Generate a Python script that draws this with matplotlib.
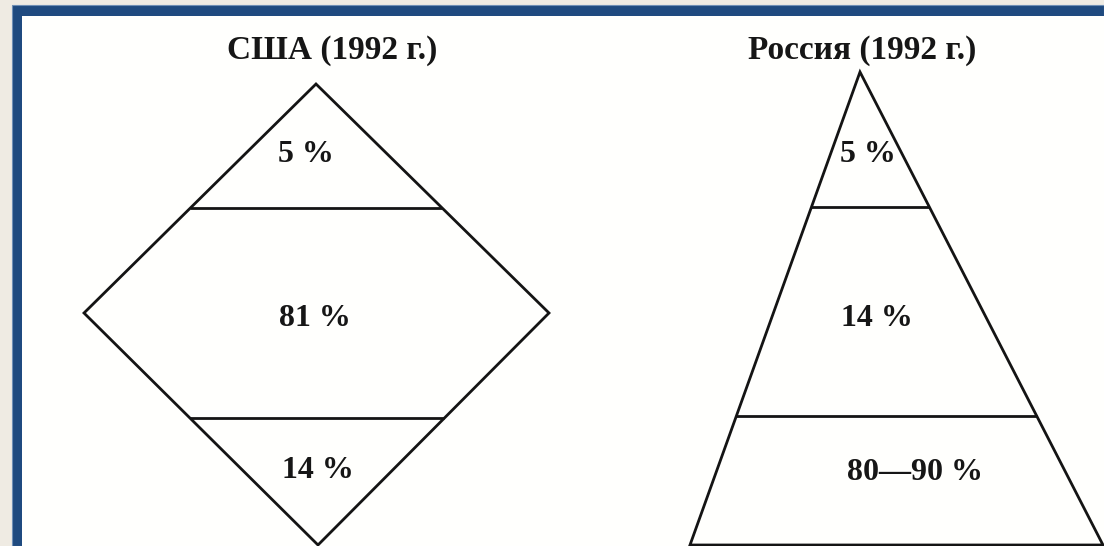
import matplotlib
matplotlib.use("Agg")
import matplotlib.pyplot as plt
from matplotlib.patches import Rectangle, Polygon

# ---- data ----
titles = ["США (1992 г.)", "Россия (1992 г.)"]
usa_labels = ["5 %", "81 %", "14 %"]          # top, middle, bottom layer
russia_labels = ["5 %", "14 %", "80—90 %"]    # top, middle, bottom layer

# ---- geometry (pixel coordinates of the diagram, y downwards) ----
W, H = 1104, 546
diamond = [(316, 84), (549, 313), (318, 545), (84, 313)]      # top, right, bottom, left
diamond_cuts = [208, 418]
triangle = [(860, 72), (1103, 545), (690, 545)]               # apex, base right, base left
triangle_cuts = [207, 416]

usa_label_pos = [(306, 155), (315, 318), (318, 470)]
rus_label_pos = [(868, 155), (877, 318), (915, 472)]
title_pos = [(332, 51), (862, 51)]

LINE = "#141414"
LW = 2.0
FONT = ["Liberation Serif", "DejaVu Serif"]

fig = plt.figure(figsize=(W / 100, H / 100), dpi=100)
fig.patch.set_facecolor("#efebe3")
ax = fig.add_axes([0, 0, 1, 1])
ax.set_xlim(0, W)
ax.set_ylim(H, 0)
ax.axis("off")

# frame
ax.add_patch(Rectangle((12, 5), W - 12, H - 5, facecolor="#1f4a7f",
                       edgecolor="#6f8fb5", lw=0.8, zorder=0))
ax.add_patch(Rectangle((22, 16), W - 22, H - 16, facecolor="#fffffd",
                       edgecolor="none", zorder=1))


def cut_x(poly_edges, y):
    """x positions where horizontal line y crosses the polygon edges."""
    xs = []
    n = len(poly_edges)
    for i in range(n):
        (x1, y1), (x2, y2) = poly_edges[i], poly_edges[(i + 1) % n]
        if y1 == y2:
            continue
        if min(y1, y2) <= y <= max(y1, y2):
            t = (y - y1) / (y2 - y1)
            xs.append(x1 + t * (x2 - x1))
    return min(xs), max(xs)


for poly, cuts in [(diamond, diamond_cuts), (triangle, triangle_cuts)]:
    ax.add_patch(Polygon(poly, closed=True, fill=False, edgecolor=LINE,
                         lw=LW, joinstyle="miter", zorder=3))
    for y in cuts:
        x0, x1 = cut_x(poly, y)
        ax.plot([x0, x1], [y, y], color=LINE, lw=LW, zorder=3,
                solid_capstyle="butt")

for (x, y), t in zip(title_pos, titles):
    ax.text(x, y, t, ha="center", va="center", fontsize=24,
            fontweight="bold", family=FONT, color="#161616", zorder=4)

for labels, positions in [(usa_labels, usa_label_pos), (russia_labels, rus_label_pos)]:
    for (x, y), t in zip(positions, labels):
        ax.text(x, y, t, ha="center", va="center", fontsize=23,
                fontweight="bold", family=FONT, color="#161616", zorder=4)

fig.savefig("out.png", dpi=100, facecolor=fig.get_facecolor())
